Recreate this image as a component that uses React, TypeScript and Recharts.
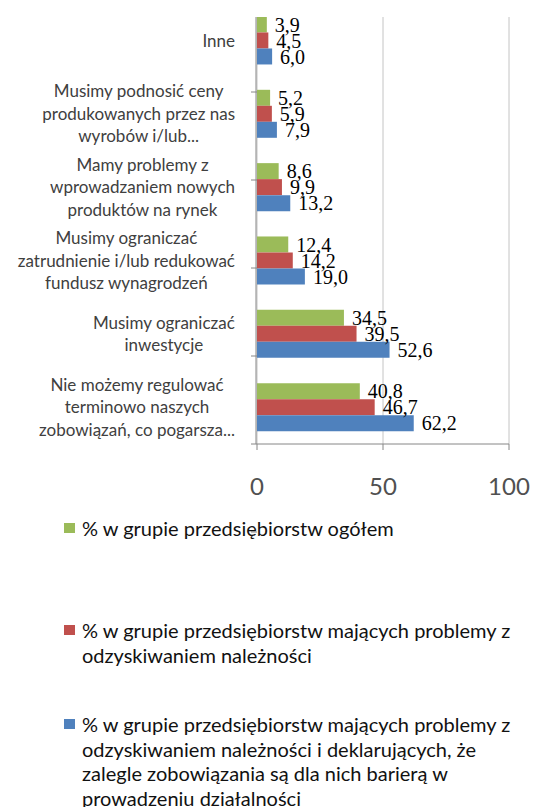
import React from 'react';
import { BarChart, Bar, XAxis, YAxis, CartesianGrid, LabelList, Legend } from 'recharts';

const categories = [
  'Inne',
  'Musimy podnosić ceny produkowanych przez nas wyrobów i/lub...',
  'Mamy problemy z wprowadzaniem nowych produktów na rynek',
  'Musimy ograniczać zatrudnienie i/lub redukować fundusz wynagrodzeń',
  'Musimy ograniczać inwestycje',
  'Nie możemy regulować terminowo naszych zobowiązań, co pogarsza...',
];

const categoryLines = [
  ['Inne'],
  ['Musimy podnosić ceny', 'produkowanych przez nas', 'wyrobów i/lub...'],
  ['Mamy problemy z', 'wprowadzaniem nowych', 'produktów na rynek'],
  ['Musimy ograniczać', 'zatrudnienie i/lub redukować', 'fundusz wynagrodzeń'],
  ['Musimy ograniczać', 'inwestycje'],
  ['Nie możemy regulować', 'terminowo naszych', 'zobowiązań, co pogarsza...'],
];

const ogolem = [3.9, 5.2, 8.6, 12.4, 34.5, 40.8];
const naleznosci = [4.5, 5.9, 9.9, 14.2, 39.5, 46.7];
const bariera = [6.0, 7.9, 13.2, 19.0, 52.6, 62.2];

const xTicks = [0, 50, 100];
const boundaryTicks = [0, 1, 2, 3, 4, 5, 6];

const seriesNames = [
  '% w grupie przedsiębiorstw ogółem',
  '% w grupie przedsiębiorstw mających problemy z odzyskiwaniem należności',
  '% w grupie przedsiębiorstw mających problemy z odzyskiwaniem należności i deklarujących, że zalegle zobowiązania są dla nich barierą w prowadzeniu działalności',
];

const legendLines = [
  ['% w grupie przedsiębiorstw ogółem'],
  ['% w grupie przedsiębiorstw mających problemy z', 'odzyskiwaniem należności'],
  [
    '% w grupie przedsiębiorstw mających problemy z',
    'odzyskiwaniem należności i deklarujących, że',
    'zalegle zobowiązania są dla nich barierą w',
    'prowadzeniu działalności',
  ],
];

const GREEN = '#9BBB59';
const RED = '#C0504D';
const BLUE = '#4F81BD';
const seriesColors = [GREEN, RED, BLUE];

const data = categories.map((c, i) => ({
  name: c,
  ogolem: ogolem[i],
  naleznosci: naleznosci[i],
  bariera: bariera[i],
}));

const CAT_FONT = '17px Lato';
let measureCtx: CanvasRenderingContext2D | null = null;
function textWidth(s: string, font: string): number {
  if (typeof document === 'undefined') return s.length * 8;
  if (!measureCtx) measureCtx = document.createElement('canvas').getContext('2d');
  if (!measureCtx) return s.length * 8;
  measureCtx.font = font;
  return measureCtx.measureText(s).width;
}

const CategoryTick = (props: any) => {
  const { x, y, payload } = props;
  const idx = categories.indexOf(payload.value);
  const lines = idx >= 0 ? categoryLines[idx] : [String(payload.value)];
  const maxW = Math.max(...lines.map((l) => textWidth(l, CAT_FONT)));
  const cx = x - maxW / 2;
  const lh = 22.5;
  return (
    <g>
      {lines.map((l, i) => (
        <text
          key={i}
          x={cx}
          y={y + (i - (lines.length - 1) / 2) * lh}
          dy="0.35em"
          textAnchor="middle"
          fontFamily="Lato"
          fontSize={17}
          fill="#404040"
        >
          {l}
        </text>
      ))}
    </g>
  );
};

const fmt = (v: any) => Number(v).toFixed(1).replace('.', ',');

const legendTops = [0, 102, 196];

const renderLegend = () => (
  <div style={{ position: 'relative', width: 534, height: 300 }}>
    {legendLines.map((lines, i) => (
      <div key={i} style={{ position: 'absolute', top: legendTops[i], left: 0, width: 534 }}>
        <div
          style={{
            position: 'absolute',
            left: 64,
            top: 7,
            width: 11,
            height: 10,
            background: seriesColors[i],
          }}
        />
        <div
          style={{
            position: 'absolute',
            left: 82,
            top: 0,
            fontFamily: 'Lato',
            fontSize: 20,
            lineHeight: '24.5px',
            color: '#111',
            whiteSpace: 'nowrap',
          }}
        >
          {lines.map((l, j) => (
            <div key={j}>{l}</div>
          ))}
        </div>
      </div>
    ))}
  </div>
);

export default function App() {
  return (
    <div
      style={{
        position: 'absolute',
        top: 17,
        left: 0,
        width: 534,
        height: 790,
        overflow: 'hidden',
        background: '#fff',
      }}
    >
      <div style={{ position: 'absolute', top: -13, left: 0 }}>
        <BarChart
          width={534}
          height={807}
          data={data}
          layout="vertical"
          margin={{ top: 0, right: 25, bottom: 317, left: 0 }}
          barCategoryGap="17%"
          barGap={0}
        >
          <CartesianGrid horizontal={false} vertical stroke="#c4c4c4" />
          <XAxis
            type="number"
            domain={[0, 100]}
            ticks={xTicks}
            height={50}
            axisLine={{ stroke: '#868686' }}
            tickLine={{ stroke: '#868686' }}
            tickSize={6}
            tickMargin={28}
            tick={{ fontFamily: 'Lato', fontSize: 24, fill: '#505050' }}
          />
          <YAxis
            yAxisId="a"
            type="number"
            domain={[0, 6]}
            ticks={boundaryTicks}
            width={1}
            axisLine={false}
            tickLine={{ stroke: '#868686' }}
            tickSize={6}
            tickFormatter={() => ''}
          />
          <YAxis
            yAxisId="b"
            type="category"
            dataKey="name"
            width={256}
            axisLine={{ stroke: '#868686' }}
            tickLine={false}
            tickSize={6}
            tickMargin={15}
            interval={0}
            tick={<CategoryTick />}
          />
          <Legend
            layout="vertical"
            align="center"
            verticalAlign="middle"
            wrapperStyle={{ top: 512, left: 0, width: 534 }}
            content={renderLegend}
          />
          <Bar yAxisId="b" dataKey="ogolem" name={seriesNames[0]} fill={GREEN} isAnimationActive={false}>
            <LabelList dataKey="ogolem" position="right" offset={8} formatter={fmt} style={{ fontFamily: 'Liberation Serif', fontSize: 20, fill: '#000' }} />
          </Bar>
          <Bar yAxisId="b" dataKey="naleznosci" name={seriesNames[1]} fill={RED} isAnimationActive={false}>
            <LabelList dataKey="naleznosci" position="right" offset={8} formatter={fmt} style={{ fontFamily: 'Liberation Serif', fontSize: 20, fill: '#000' }} />
          </Bar>
          <Bar yAxisId="b" dataKey="bariera" name={seriesNames[2]} fill={BLUE} isAnimationActive={false}>
            <LabelList dataKey="bariera" position="right" offset={8} formatter={fmt} style={{ fontFamily: 'Liberation Serif', fontSize: 20, fill: '#000' }} />
          </Bar>
        </BarChart>
      </div>
    </div>
  );
}
